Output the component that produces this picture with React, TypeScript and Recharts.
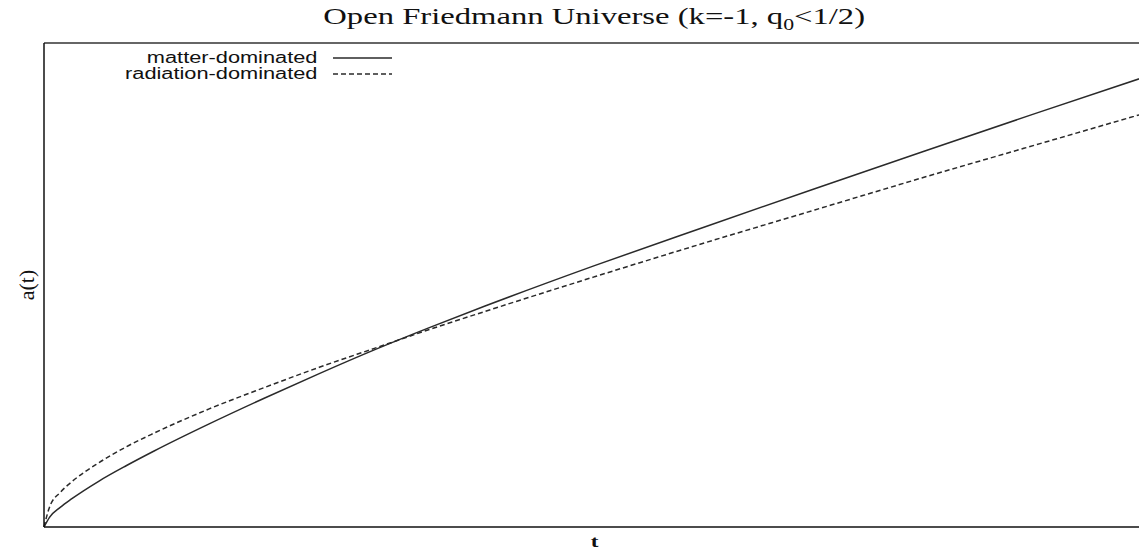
import React from 'react';
import { LineChart, Line, XAxis, YAxis, Legend, ReferenceLine } from 'recharts';

// time values (arbitrary units) and the two scale factors
const times = [0, 0.05, 0.15, 0.25, 0.5, 0.75, 1, 1.5, 2, 2.5, 3, 3.5, 4, 5, 6, 7, 8, 9, 10];
const matterDominated = [0, 0.2, 0.41, 0.58, 0.95, 1.27, 1.57, 2.13, 2.66, 3.17, 3.66, 4.12, 4.56, 5.4, 6.2, 6.99, 7.77, 8.54, 9.3];
const radiationDominated = [0, 0.41, 0.72, 0.93, 1.33, 1.66, 1.94, 2.44, 2.88, 3.3, 3.69, 4.08, 4.45, 5.17, 5.87, 6.55, 7.23, 7.89, 8.55];

const series = [
    { key: 'matter', name: 'matter-dominated', dash: undefined },
    { key: 'radiation', name: 'radiation-dominated', dash: '5 3' },
];

const chartData = times.map((t, i) => ({
    t,
    matter: matterDominated[i],
    radiation: radiationDominated[i],
}));

const STRETCH = 1.36;
const LINE = '#2a2a2a';
const SERIF = "'Liberation Serif', 'Times New Roman', serif";

const XLabel = ({ viewBox }: any) => {
    const cx = viewBox.x + viewBox.width / 2;
    return (
        <text
            x={cx}
            y={547}
            textAnchor="middle"
            style={{ fontFamily: SERIF, fontWeight: 'bold', fontSize: 17 }}
            fill="#111"
            transform={`translate(${cx},0) scale(${STRETCH},1) translate(${-cx},0)`}
        >
            t
        </text>
    );
};

const YLabel = ({ viewBox }: any) => {
    const cy = viewBox.y + viewBox.height / 2;
    return (
        <text
            x={26}
            y={cy}
            textAnchor="middle"
            dominantBaseline="central"
            style={{ fontFamily: SERIF, fontSize: 22 }}
            fill="#111"
            transform={`rotate(-90, 26, ${cy})`}
        >
            a(t)
        </text>
    );
};

const renderLegend = () => (
    <div style={{ width: 292 }}>
        {series.map(s => (
            <div key={s.key} style={{ display: 'flex', justifyContent: 'flex-end', alignItems: 'center', height: 16 }}>
                <span
                    style={{
                        display: 'inline-block',
                        fontFamily: "'Liberation Sans', Arial, sans-serif",
                        fontSize: 16,
                        lineHeight: '16px',
                        color: '#111',
                        transform: `scaleX(${STRETCH})`,
                        transformOrigin: 'right center',
                        whiteSpace: 'nowrap',
                    }}
                >
                    {s.name}
                </span>
                <svg width={59} height={4} style={{ marginLeft: 16 }}>
                    <line x1={0} y1={2} x2={59} y2={2} stroke={LINE} strokeWidth={1.5} strokeDasharray={s.dash} />
                </svg>
            </div>
        ))}
    </div>
);

export default function App() {
    return (
        <div style={{ position: 'absolute', left: 0, top: 0, width: 1139, height: 551, overflow: 'hidden', background: '#fff' }}>
            <div style={{ position: 'absolute', left: 0, top: 3, width: 1188, textAlign: 'center' }}>
                <span
                    style={{
                        display: 'inline-block',
                        fontFamily: SERIF,
                        fontSize: 24,
                        color: '#111',
                        transform: `scaleX(${STRETCH})`,
                        whiteSpace: 'nowrap',
                    }}
                >
                    Open Friedmann Universe (k=-1, q<sub style={{ fontSize: 16 }}>0</sub>&lt;1/2)
                </span>
            </div>
            <LineChart width={1145} height={551} data={chartData} margin={{ top: 43, right: 0, bottom: 0, left: 0 }}>
                <XAxis
                    dataKey="t"
                    type="number"
                    domain={[0, 10]}
                    tick={false}
                    tickLine={false}
                    height={24}
                    axisLine={{ stroke: '#111', strokeWidth: 1.5 }}
                    label={<XLabel />}
                />
                <YAxis
                    type="number"
                    domain={[0, 10]}
                    tick={false}
                    tickLine={false}
                    width={44}
                    axisLine={{ stroke: '#111', strokeWidth: 1.5 }}
                    label={<YLabel />}
                />
                <ReferenceLine y={10} stroke="#333" strokeWidth={1.5} />
                <Legend
                    content={renderLegend}
                    layout="horizontal"
                    verticalAlign="middle"
                    align="center"
                    wrapperStyle={{ position: 'absolute', left: 100, top: 50, width: 292 }}
                />
                {series.map(s => (
                    <Line
                        key={s.key}
                        dataKey={s.key}
                        name={s.name}
                        type="monotone"
                        stroke={LINE}
                        strokeWidth={1.5}
                        strokeDasharray={s.dash}
                        dot={false}
                        isAnimationActive={false}
                    />
                ))}
            </LineChart>
        </div>
    );
}
